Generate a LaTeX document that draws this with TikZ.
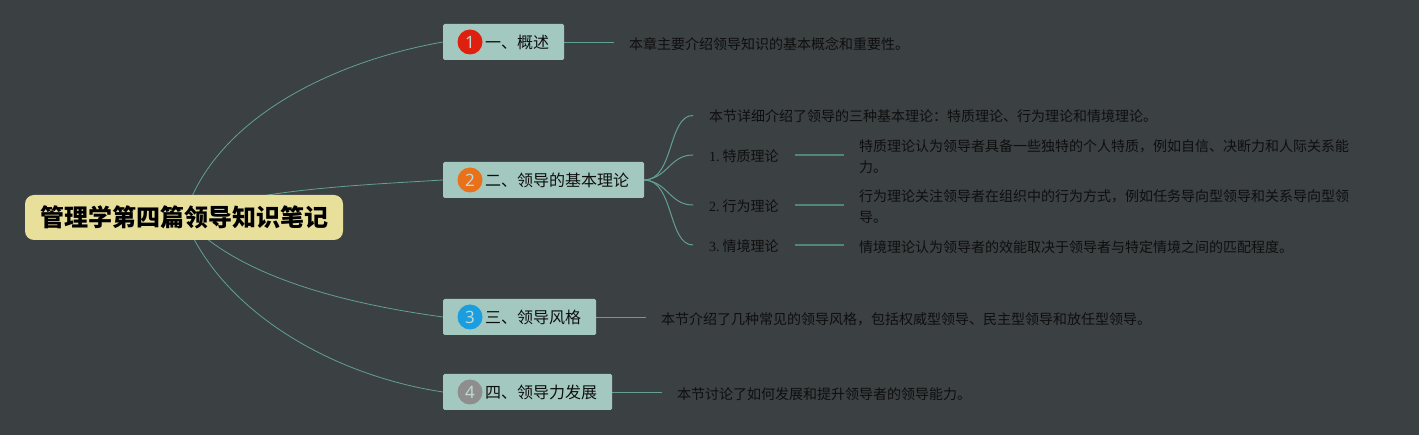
\documentclass[tikz,border=0pt]{standalone}
\usepackage{fontspec}
\setmainfont{Noto Sans CJK SC}
\newfontfamily\latinserif{Liberation Serif}
\newfontfamily\digitfont{Noto Sans}
\usetikzlibrary{backgrounds,calc}
\definecolor{bgc}{HTML}{3B4043}
\definecolor{linec}{HTML}{62A094}
\definecolor{shortc}{HTML}{50877A}
\definecolor{inkc}{HTML}{0E0E0E}
\definecolor{boxc}{HTML}{A3C8C0}
\definecolor{rootc}{HTML}{E8DF9A}
\tikzset{
  rootbox/.style={fill=rootc,rounded corners=9pt,text=black,font=\fontsize{24}{28}\selectfont\bfseries,minimum width=318pt,minimum height=45pt,inner sep=0pt},
  topicbox/.style={fill=boxc,rounded corners=1.5pt,text=inkc,font=\fontsize{16}{20}\selectfont,anchor=west,minimum height=36pt,inner xsep=15pt,inner ysep=0pt},
  badge/.style={circle,minimum size=25pt,inner sep=0pt,text=boxc!70!white,font=\digitfont\fontsize{17}{20}\selectfont},
  note/.style={text=inkc,font=\fontsize{14}{21}\selectfont,anchor=west,align=left,inner xsep=15pt,inner ysep=0pt},
  branchnote/.style={note,inner xsep=16pt},
  link/.style={draw=linec,line width=0.8pt},
  sublink/.style={draw=linec,line width=1.0pt},
  shortlink/.style={draw=shortc,line width=1.2pt}
}
\begin{document}
\begin{tikzpicture}[x=1pt,y=-1pt]
\useasboundingbox (0,0) rectangle (1419,435);
\node[rootbox] (root) at (184,217.5) {\hspace*{1.5pt}\raisebox{-1.5pt}{管理学第四篇领导知识笔记}};
\node[topicbox] (t1) at (443,42) {\hspace*{27pt}\raisebox{-1pt}{一、概述}};
\node[topicbox] (t2) at (443,180) {\hspace*{27pt}\raisebox{-1pt}{二、领导的基本理论}};
\node[topicbox] (t3) at (443,317) {\hspace*{27pt}\raisebox{-1pt}{三、领导风格}};
\node[topicbox] (t4) at (443,392) {\hspace*{27pt}\raisebox{-1pt}{四、领导力发展}};
\node[badge,fill={rgb,255:red,224;green,32;blue,15}] (b1) at ($(t1.west)+(27,0)$) {1};
\node[badge,fill={rgb,255:red,232;green,113;blue,26}] (b2) at ($(t2.west)+(27,0)$) {2};
\node[badge,fill={rgb,255:red,26;green,158;blue,224}] (b3) at ($(t3.west)+(27,0)$) {3};
\node[badge,fill={rgb,255:red,142;green,142;blue,142}] (b4) at ($(t4.west)+(27,0)$) {4};
\node[note] (n1) at (614,44) {本章主要介绍领导知识的基本概念和重要性。};
\node[note] (n3) at (646,319) {本节介绍了几种常见的领导风格，包括权威型领导、民主型领导和放任型领导。};
\node[note] (n4) at (662,394) {本节讨论了如何发展和提升领导者的领导能力。};
\node[branchnote] (s0) at (693,116.5) {本节详细介绍了领导的三种基本理论：特质理论、行为理论和情境理论。};
\node[branchnote] (s1) at (693,156) {{\latinserif 1.\hspace{3pt}}特质理论};
\node[branchnote] (s2) at (693,206) {{\latinserif 2.\hspace{3pt}}行为理论};
\node[branchnote] (s3) at (693,246) {{\latinserif 3.\hspace{3pt}}情境理论};
\node[note] (d1) at (844,157) {特质理论认为领导者具备一些独特的个人特质，例如自信、决断力和人际关系能\\力。};
\node[note] (d2) at (844,207) {行为理论关注领导者在组织中的行为方式，例如任务导向型领导和关系导向型领\\导。};
\node[note] (d3) at (844,247) {情境理论认为领导者的效能取决于领导者与特定情境之间的匹配程度。};
\begin{scope}[on background layer]
\fill[bgc] (0,0) rectangle (1419,435);
\draw[link] (root.center) .. controls (215,115) and (340,60) .. (t1.west);
\draw[link] (root.center) .. controls (240,190) and (360,185) .. (t2.west);
\draw[link] (root.center) .. controls (235,275) and (340,303) .. (t3.west);
\draw[link] (root.center) .. controls (220,310) and (330,375) .. (t4.west);
\draw[link] (t1.east) -- (n1.west |- t1.east);
\draw[link] (t3.east) -- (n3.west |- t3.east);
\draw[link] (t4.east) -- (n4.west |- t4.east);
\draw[sublink] (t2.east) .. controls (674,180) and (668,115) .. ($(s0.west)+(0,-1)$);
\draw[sublink] (t2.east) .. controls (668,178) and (670,155) .. ($(s1.west)+(0,-1)$);
\draw[sublink] (t2.east) .. controls (668,182) and (670,205) .. ($(s2.west)+(0,-1)$);
\draw[sublink] (t2.east) .. controls (674,180) and (668,245) .. ($(s3.west)+(0,-1)$);
\draw[shortlink] ($(s1.east)+(0,-1)$) -- ($(d1.west |- s1.east)+(0,-1)$);
\draw[shortlink] ($(s2.east)+(0,-1)$) -- ($(d2.west |- s2.east)+(0,-1)$);
\draw[shortlink] ($(s3.east)+(0,-1)$) -- ($(d3.west |- s3.east)+(0,-1)$);
\end{scope}
\end{tikzpicture}
\end{document}
